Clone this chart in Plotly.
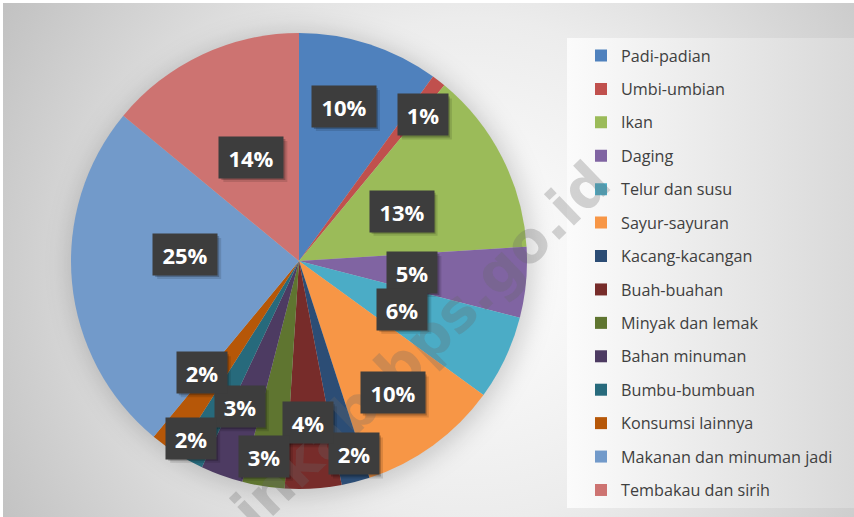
import base64
import math

import plotly.graph_objects as go

# ---- data -----------------------------------------------------------------
categories = [
    "Padi-padian", "Umbi-umbian", "Ikan", "Daging", "Telur dan susu",
    "Sayur-sayuran", "Kacang-kacangan", "Buah-buahan", "Minyak dan lemak",
    "Bahan minuman", "Bumbu-bumbuan", "Konsumsi lainnya",
    "Makanan dan minuman jadi", "Tembakau dan sirih",
]
shares = [10, 1, 13, 5, 6, 10, 2, 4, 3, 3, 2, 2, 25, 14]

# ---- styling --------------------------------------------------------------
colors = [
    "#4F81BD", "#C0504D", "#9BBB59", "#8064A2", "#4BACC6", "#F79646",
    "#2C4D75", "#772C2A", "#5F7530", "#4D3B62", "#276A7C", "#B65708",
    "#729ACA", "#CD7371",
]
# label placement: fraction of the radius and small angular nudge (deg)
label_radius = [0.706, 0.84, 0.50, 0.50, 0.50, 0.71, 0.88, 0.71, 0.87, 0.69, 0.91, 0.65, 0.50, 0.50]
label_nudge = [-1.8, 2.5, 1.1, 0.4, -0.2, 0.6, -1.5, 0.4, 1.2, 2.3, 2.5, 5.0, 8.7, 0.5]

W, H = 854, 517
CX, CY, R = 299, 261, 228          # pie centre / radius in pixels

dom_x = [(CX - R) / W, (CX + R) / W]
dom_y = [(H - CY - R) / H, (H - CY + R) / H]

# ---- background (gradient frame, legend panel, soft pie shadow) -----------
bg_svg = f'''<svg xmlns="http://www.w3.org/2000/svg" width="{W}" height="{H}" viewBox="0 0 {W} {H}">
<defs>
<radialGradient id="bg" gradientUnits="userSpaceOnUse" cx="470" cy="270" r="560">
<stop offset="0" stop-color="#ffffff"/>
<stop offset="0.45" stop-color="#ececec"/>
<stop offset="1" stop-color="#bebebe"/>
</radialGradient>
<linearGradient id="lg" x1="0" y1="0" x2="1" y2="0">
<stop offset="0" stop-color="#fbfbfb"/>
<stop offset="1" stop-color="#d9d9d9"/>
</linearGradient>
<filter id="blur" x="-50%" y="-50%" width="200%" height="200%"><feGaussianBlur stdDeviation="12"/></filter>
</defs>
<rect width="{W}" height="{H}" fill="#ffffff"/>
<rect x="3" y="3" width="{W - 3}" height="{H - 3}" fill="url(#bg)"/>
<rect x="567" y="38" width="{W - 567}" height="470" fill="url(#lg)"/>
<circle cx="{CX + 3}" cy="{CY + 3}" r="{R + 4}" fill="#000000" fill-opacity="0.17" filter="url(#blur)"/>
</svg>'''
bg_uri = "data:image/svg+xml;base64," + base64.b64encode(bg_svg.encode()).decode()

# ---- pie ------------------------------------------------------------------
legend_labels = [f'<span style="font-size:16.2px;baseline-shift:3px">{c}</span>' for c in categories]

fig = go.Figure(go.Pie(
    labels=legend_labels,
    values=shares,
    sort=False,
    direction="clockwise",
    rotation=0,
    marker=dict(colors=colors, line=dict(width=0)),
    textinfo="none",
    hovertemplate="%{label}: %{percent}<extra></extra>",
    domain=dict(x=dom_x, y=dom_y),
))

# ---- annotations: watermark, then boxed percentage labels -----------------
annotations = [dict(
    text="https://tapinkab.bps.go.id",
    xref="paper", yref="paper", x=298 / W, y=1 - 464 / H,
    xanchor="center", yanchor="middle", showarrow=False, textangle=-44,
    font=dict(family="DejaVu Sans", size=57, color="rgba(105,105,105,0.28)", weight="bold"),
)]
shapes = []

total = sum(shares)
cum = 0.0
for v, rf, nd in zip(shares, label_radius, label_nudge):
    mid = (cum + v / 2) / total * 360 + nd
    cum += v
    a = math.radians(mid)
    px = CX + rf * R * math.sin(a)
    py = CY - rf * R * math.cos(a)
    pct = round(v / total * 100)
    w = 26 + 14 * len(str(pct))
    bw, bh = w + 10, 41             # box incl. padding
    # soft drop shadow under each label box
    for off, alpha in ((4, 0.12), (2, 0.22)):
        x0 = px - bw / 2 + off
        y0 = py - bh / 2 + off
        shapes.append(dict(type="rect", xref="paper", yref="paper", layer="above",
                           x0=x0 / W, x1=(x0 + bw) / W, y0=1 - y0 / H, y1=1 - (y0 + bh) / H,
                           fillcolor=f"rgba(0,0,0,{alpha})", line=dict(width=0)))
    annotations.append(dict(
        xref="paper", yref="paper", x=px / W, y=1 - py / H,
        xanchor="center", yanchor="middle", showarrow=False,
        width=w, height=31, borderpad=5, text=f"{pct}%", bgcolor="#3d3d3d",
        font=dict(family="Open Sans", size=22, color="#ffffff", weight="bold"),
    ))

fig.update_layout(
    width=W, height=H,
    margin=dict(l=0, r=0, t=0, b=0),
    paper_bgcolor="#ffffff",
    plot_bgcolor="rgba(0,0,0,0)",
    showlegend=True,
    legend=dict(
        x=581 / W, y=1 - 33.8 / H, xanchor="left", yanchor="top",
        font=dict(family="Open Sans", size=23.4, color="#404040"),
        bgcolor="rgba(0,0,0,0)", traceorder="normal",
    ),
    images=[dict(source=bg_uri, xref="paper", yref="paper", x=0, y=1,
                 sizex=1, sizey=1, sizing="stretch", xanchor="left", yanchor="top",
                 layer="below")],
    shapes=shapes,
    annotations=annotations,
)

fig.write_html("out.html")
